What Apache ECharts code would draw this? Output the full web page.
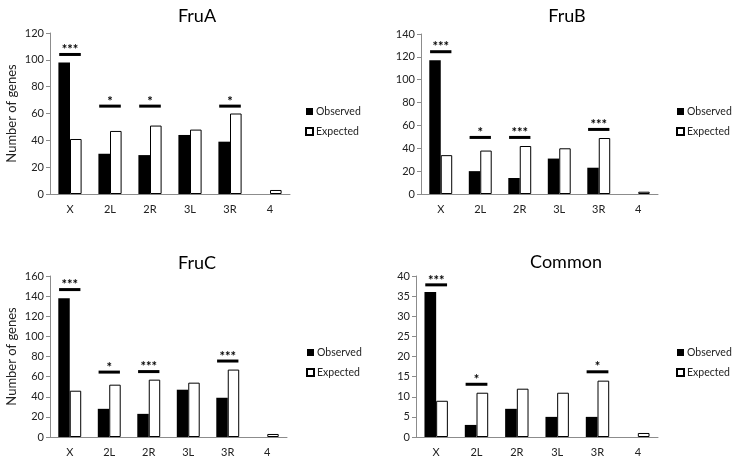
<!DOCTYPE html>
<html>
<head>
<meta charset="utf-8">
<script src="https://cdn.jsdelivr.net/npm/echarts@6/dist/echarts.min.js"></script>
<style>
  html, body { margin: 0; padding: 0; background: #fff; }
  #chart { width: 733px; height: 459px; }
</style>
</head>
<body>
<div id="chart"></div>
<script>
// chromosome arms
const categories = ['X', '2L', '2R', '3L', '3R', '4'];

// observed / expected gene counts per panel
const fruAObserved = [98, 30, 29, 44, 39, 0];
const fruAExpected = [41, 47, 51, 48, 60, 3];
const fruBObserved = [117, 20, 14, 31, 23, 0];
const fruBExpected = [34, 38, 42, 40, 49, 2];
const fruCObserved = [138, 28, 23, 47, 39, 0];
const fruCExpected = [46, 52, 57, 54, 67, 3];
const commonObserved = [36, 3, 7, 5, 5, 0];
const commonExpected = [9, 11, 12, 11, 14, 1];

// significance bars: category, height, stars
const fruASigCats = ['X', '2L', '2R', '3R'];
const fruASigY = [104, 65.5, 65.5, 65.5];
const fruASigStars = ['***', '*', '*', '*'];
const fruBSigCats = ['X', '2L', '2R', '3R'];
const fruBSigY = [124.5, 49.5, 49.5, 56.5];
const fruBSigStars = ['***', '*', '***', '***'];
const fruCSigCats = ['X', '2L', '2R', '3R'];
const fruCSigY = [146.5, 64.5, 65, 75.5];
const fruCSigStars = ['***', '*', '***', '***'];
const commonSigCats = ['X', '2L', '3R'];
const commonSigY = [37.8, 13.1, 16.2];
const commonSigStars = ['***', '*', '*'];

const panelTitles = ['FruA', 'FruB', 'FruC', 'Common'];
const yMax = [120, 140, 160, 40];
const yStep = [20, 20, 20, 5];

const FONT = 'Lato, "Open Sans", sans-serif';

const panels = [
  { obs: fruAObserved, exp: fruAExpected, sc: fruASigCats, sy: fruASigY, ss: fruASigStars },
  { obs: fruBObserved, exp: fruBExpected, sc: fruBSigCats, sy: fruBSigY, ss: fruBSigStars },
  { obs: fruCObserved, exp: fruCExpected, sc: fruCSigCats, sy: fruCSigY, ss: fruCSigStars },
  { obs: commonObserved, exp: commonExpected, sc: commonSigCats, sy: commonSigY, ss: commonSigStars }
];

// layout of the four plot areas
const grids = [
  { left: 50, top: 33, width: 240, height: 161 },
  { left: 421, top: 34, width: 237, height: 160 },
  { left: 50, top: 276, width: 237, height: 161 },
  { left: 416, top: 276, width: 242, height: 161 }
];
const titlePos = [[192, 2], [562, 2], [192, 249], [561, 248]];
const legendPos = [[305, 106], [676, 106], [306, 347], [676, 347]];

const chart = echarts.init(document.getElementById('chart'));

const xAxes = [], yAxes = [], series = [], titles = [], legends = [];

panels.forEach((p, i) => {
  xAxes.push({
    type: 'category',
    gridIndex: i,
    data: categories,
    axisLine: { lineStyle: { color: '#8c8c8c' } },
    axisTick: { length: 5, lineStyle: { color: '#8c8c8c' } },
    axisLabel: { color: '#222', fontSize: 11, fontFamily: FONT, margin: 10 }
  });
  yAxes.push({
    type: 'value',
    gridIndex: i,
    min: 0,
    max: yMax[i],
    interval: yStep[i],
    name: i % 2 === 0 ? 'Number of genes' : '',
    nameLocation: 'middle',
    nameGap: 32,
    nameTextStyle: { color: '#222', fontSize: 13, fontFamily: FONT },
    splitLine: { show: false },
    axisLine: { show: true, lineStyle: { color: '#8c8c8c' } },
    axisTick: { show: true, length: 4, lineStyle: { color: '#8c8c8c' } },
    axisLabel: { color: '#222', fontSize: 11, fontFamily: FONT, margin: 6 }
  });
  titles.push({
    text: panelTitles[i],
    left: titlePos[i][0],
    top: titlePos[i][1],
    textAlign: 'center',
    textStyle: { fontSize: 18, fontWeight: 'normal', color: '#000', fontFamily: FONT }
  });
  legends.push({
    data: ['Observed', 'Expected'],
    orient: 'vertical',
    left: legendPos[i][0],
    top: legendPos[i][1],
    padding: 0,
    icon: 'rect',
    itemWidth: 7,
    itemHeight: 7,
    itemGap: 9,
    textStyle: { fontSize: 10.5, color: '#222', fontFamily: FONT, padding: [0, 0, 0, -2] }
  });
  series.push({
    name: 'Observed',
    type: 'bar',
    xAxisIndex: i,
    yAxisIndex: i,
    data: p.obs,
    barGap: '0%',
    barCategoryGap: '42%',
    itemStyle: { color: '#000' }
  });
  series.push({
    name: 'Expected',
    type: 'bar',
    xAxisIndex: i,
    yAxisIndex: i,
    data: p.exp,
    itemStyle: { color: '#fff', borderColor: '#000', borderWidth: 1 }
  });
  // significance markers
  series.push({
    type: 'custom',
    xAxisIndex: i,
    yAxisIndex: i,
    silent: true,
    z: 5,
    data: p.sc.map((c, k) => [categories.indexOf(c), p.sy[k], k]),
    renderItem: (params, api) => {
      const pt = api.coord([api.value(0), api.value(1)]);
      const bw = api.size([1, 0])[0];
      const half = bw * 0.27;
      const stars = p.ss[api.value(2)];
      return {
        type: 'group',
        children: [
          {
            type: 'line',
            shape: { x1: pt[0] - half, y1: pt[1], x2: pt[0] + half, y2: pt[1] },
            style: { stroke: '#000', lineWidth: 3 }
          },
          {
            type: 'text',
            style: {
              text: stars,
              x: pt[0],
              y: pt[1] + 2,
              align: 'center',
              verticalAlign: 'bottom',
              fill: '#000',
              font: 'bold 13px ' + FONT
            }
          }
        ]
      };
    }
  });
});

chart.setOption({
  animation: false,
  title: titles,
  legend: legends,
  grid: grids,
  xAxis: xAxes,
  yAxis: yAxes,
  series: series
});
</script>
</body>
</html>
